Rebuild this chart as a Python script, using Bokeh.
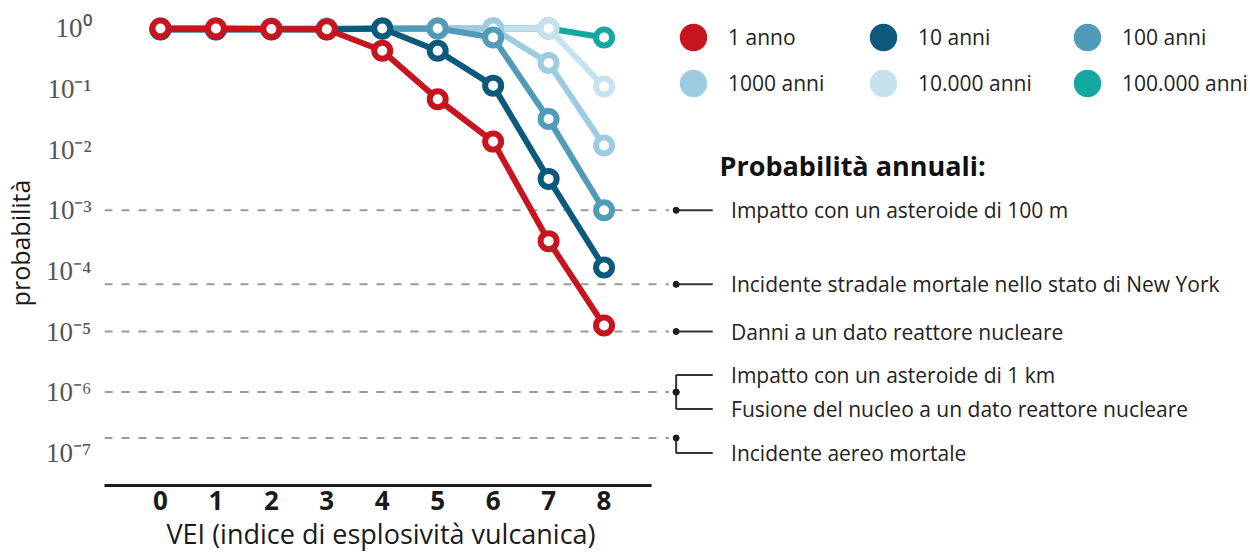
from bokeh.plotting import figure
from bokeh.models import Range1d, FixedTicker, Legend, LegendItem, Label, Title
from bokeh.core.properties import value
from bokeh.embed import file_html
from bokeh.resources import INLINE

# ---------------- data ----------------
vei = [0, 1, 2, 3, 4, 5, 6, 7, 8]

series_names = ["1 anno", "10 anni", "100 anni", "1000 anni", "10.000 anni", "100.000 anni"]
p_1_anno = [1.0, 1.0, 0.98, 0.97, 0.43, 0.068, 0.0136, 3.1e-4, 1.26e-5]
p_10_anni = [0.96, 0.96, 0.96, 0.96, 1.0, 0.43, 0.114, 3.3e-3, 1.14e-4]
p_100_anni = [0.97, 0.97, 0.97, 0.97, 0.99, 1.0, 0.71, 0.032, 1.0e-3]
p_1000_anni = [1.0, 1.0, 1.0, 1.0, 1.0, 1.0, 1.0, 0.27, 0.0117]
p_10000_anni = [1.0, 1.0, 1.0, 1.0, 1.0, 1.0, 1.0, 1.0, 0.11]
p_100000_anni = [1.0, 1.0, 1.0, 1.0, 1.0, 1.0, 1.0, 1.0, 0.71]
series_values = [p_1_anno, p_10_anni, p_100_anni, p_1000_anni, p_10000_anni, p_100000_anni]

hazard_labels = [
    "Impatto con un asteroide di 100 m",
    "Incidente stradale mortale nello stato di New York",
    "Danni a un dato reattore nucleare",
    "Impatto con un asteroide di 1 km",
    "Fusione del nucleo a un dato reattore nucleare",
    "Incidente aereo mortale",
]
hazard_values = [1e-3, 6e-5, 1e-5, 1e-6, 1e-6, 1.75e-7]

y_ticks = [1, 1e-1, 1e-2, 1e-3, 1e-4, 1e-5, 1e-6, 1e-7]
y_tick_labels = ["10⁰", "10⁻¹", "10⁻²", "10⁻³", "10⁻⁴", "10⁻⁵", "10⁻⁶", "10⁻⁷"]

# ---------------- styles / layout ----------------
colors = ["#C8141E", "#0B5A7B", "#4F9BB8", "#9DCBE2", "#C7E2EF", "#14A9A0"]
FONT = "Open Sans"
X_START, X_END = -1.009, 19.658
Y_START, Y_END = 2.877e-8, 2.897
PX_PER_DEC = 60.6
AXIS_END = 8.85
DASH_END = 9.17
DOT_X = 9.30
CONN_END = 9.96
TEXT_X = 10.29
label_offsets_px = [0, 0, 0, -17, 17, 15]

p = figure(width=1250, height=559, x_range=Range1d(X_START, X_END),
           y_range=Range1d(Y_START, Y_END), y_axis_type="log",
           output_backend="svg", toolbar_location=None,
           min_border_left=103, min_border_right=0, min_border_top=0,
           min_border_bottom=74)
p.outline_line_color = None
p.grid.visible = False
p.background_fill_color = "white"

# x axis
xa = p.xaxis[0]
xa.ticker = FixedTicker(ticks=vei)
xa.bounds = (X_START, AXIS_END)
xa.axis_line_width = 3
xa.axis_line_color = "#1a1a1a"
xa.major_tick_line_color = None
xa.minor_tick_line_color = None
xa.major_tick_out = 0
xa.minor_tick_out = 0
xa.major_label_standoff = 5
xa.major_label_text_font = FONT
xa.major_label_text_font_style = "bold"
xa.major_label_text_font_size = "26px"
xa.major_label_text_color = "#1a1a1a"

# y axis
ya = p.yaxis[0]
ya.ticker = FixedTicker(ticks=y_ticks)
ya.major_label_overrides = {t: s for t, s in zip(y_ticks, y_tick_labels)}
ya.axis_line_color = None
ya.major_tick_line_color = None
ya.minor_tick_line_color = None
ya.major_tick_out = 0
ya.minor_tick_out = 0
ya.major_label_standoff = 13
ya.major_label_text_font = "Liberation Serif"
ya.major_label_text_font_size = "27px"
ya.major_label_text_color = "#555555"
ya.axis_label = "probabilità"
ya.axis_label_text_font = FONT
ya.axis_label_text_font_style = "normal"
ya.axis_label_text_font_size = "25px"
ya.axis_label_text_color = "#1a1a1a"
ya.axis_label_standoff = 6

# x axis title (below the axis, left aligned on the VEI scale)
p.add_layout(Title(text="VEI (indice di esplosività vulcanica)", align="left",
                   offset=62, standoff=0, text_font=FONT, text_font_size="27px",
                   text_font_style="normal", text_color="#1a1a1a"), "below")

# reference dashed lines
n = len(hazard_values)
p.segment(x0=[X_START] * n, y0=hazard_values, x1=[DASH_END] * n, y1=hazard_values,
          line_color="#9a9a9a", line_width=2, line_dash="8 9")

# connectors to labels
label_y = [v * 10 ** (-off / PX_PER_DEC) for v, off in zip(hazard_values, label_offsets_px)]
p.segment(x0=[DOT_X] * n, y0=hazard_values, x1=[DOT_X] * n, y1=label_y,
          line_color="#333333", line_width=2)
p.segment(x0=[DOT_X] * n, y0=label_y, x1=[CONN_END] * n, y1=label_y,
          line_color="#333333", line_width=2)
p.scatter(x=[DOT_X] * n, y=hazard_values, size=6, color="#1a1a1a")
p.text(x=[TEXT_X] * n, y=label_y, text=hazard_labels, text_baseline="middle",
       text_align="left", text_font=value(FONT), text_font_size="21px",
       text_color="#222222")

# series (draw longest horizon first so "1 anno" is on top)
for name, vals, col in reversed(list(zip(series_names, series_values, colors))):
    p.line(vei, vals, line_color=col, line_width=6)
    p.scatter(vei, vals, size=16, fill_color="white", line_color=col, line_width=6)

# legend (three columns of two); legend-only renderers hold no visible data
legend_renderers = {}
for name, col in zip(series_names, colors):
    legend_renderers[name] = p.scatter(x=[float("nan")], y=[float("nan")], size=10,
                                       fill_color=col, line_color=col, line_width=9)

columns = [(["1 anno", "1000 anni"], 566), (["10 anni", "10.000 anni"], 756),
           (["100 anni", "100.000 anni"], 960)]
for names, lx in columns:
    lg = Legend(items=[LegendItem(label=nm, renderers=[legend_renderers[nm]]) for nm in names],
                location=(lx, 379), orientation="vertical",
                glyph_width=46, glyph_height=46, label_standoff=12,
                padding=0, spacing=0, margin=0, border_line_color=None,
                background_fill_alpha=0, label_text_font=FONT,
                label_text_font_size="21px", label_text_color="#222222",
                label_height=46)
    p.add_layout(lg)

# title of the right-hand panel
p.add_layout(Label(x=615, y=320, x_units="screen", y_units="screen",
                   text="Probabilità annuali:", text_font=FONT,
                   text_font_style="bold", text_font_size="27px",
                   text_baseline="middle", text_color="#111111"))

open("out.html", "w").write(file_html(p, INLINE))
